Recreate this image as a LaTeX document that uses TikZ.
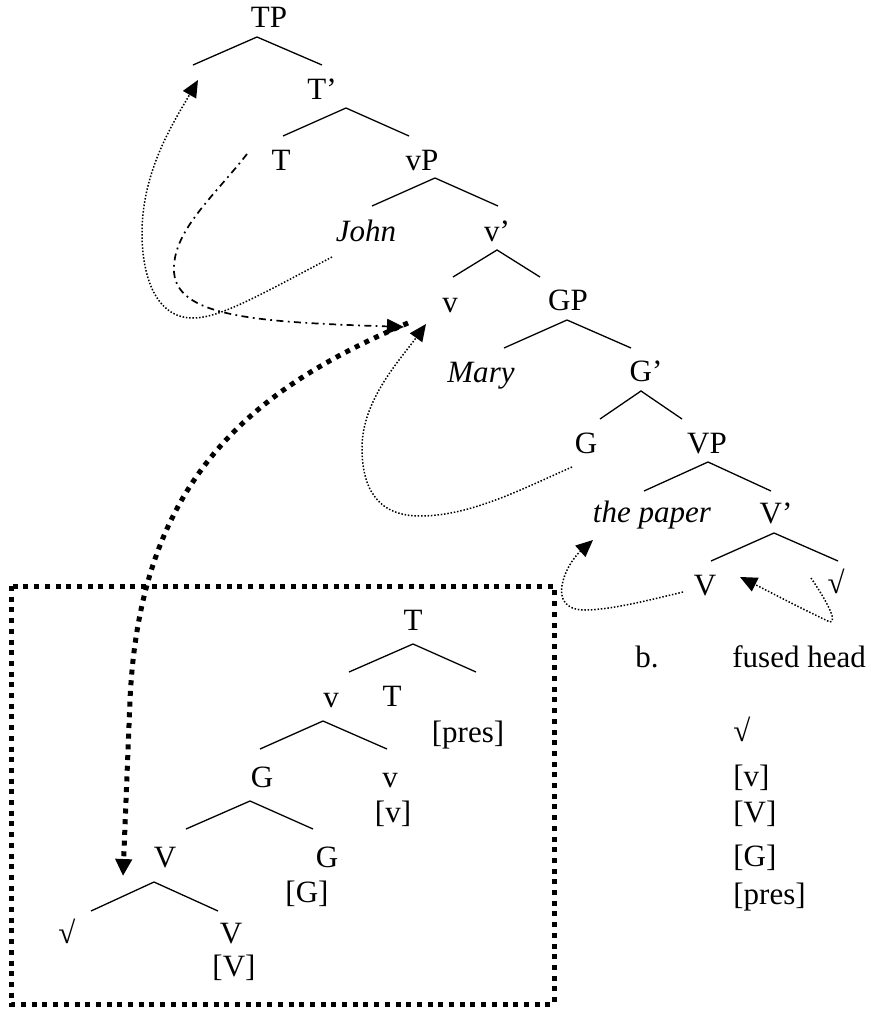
\documentclass[tikz,border=0pt]{standalone}
\usepackage{fontspec}
\setmainfont{Liberation Serif}
\usepackage{tikz}
\usetikzlibrary{arrows.meta,calc,positioning}
\tikzset{
  branch/.style={line width=0.65pt},
  lbl/.style={anchor=base,inner sep=0pt,font=\fontsize{15.5}{18}\selectfont},
  lblw/.style={lbl,anchor=base west},
  tip/.style={-{Triangle[length=8.5pt,width=7.5pt]}},
  thindot/.style={line width=0.75pt,dash pattern=on 0.75pt off 0.9pt},
  dashdot/.style={line width=0.85pt,dash pattern=on 3.5pt off 2.2pt on 0.9pt off 2.2pt},
  thickdot/.style={line width=2.5pt,dash pattern=on 2.5pt off 2.85pt}
}
\begin{document}
\begin{tikzpicture}[x=0.5pt,y=-0.5pt]
\useasboundingbox (0,0) rectangle (871,1011);
% a. tree
\node[lbl] (TP) at (269,28) {TP};
\draw[branch] (193,65) -- (257,37) -- (322,65);
\node[lbl] (Tbar) at (322,100) {T’};
\draw[branch] (283,136) -- (346,108) -- (409,136);
\node[lbl] (T) at (281,170) {T};
\node[lbl] (vP) at (422,170) {vP};
\draw[branch] (372,206) -- (435,178) -- (498,206);
\node[lbl] (John) at (366,241) {\textit{John}};
\node[lbl] (vbar) at (497,241) {v’};
\draw[branch] (453,277) -- (497,250) -- (540,277);
\node[lbl] (v) at (450,312) {v};
\node[lbl] (GP) at (568,310) {GP};
\draw[branch] (504,348) -- (567,320) -- (631,348);
\node[lbl] (Mary) at (481,382) {\textit{Mary}};
\node[lbl] (Gbar) at (646,381) {G’};
\draw[branch] (600,419) -- (641,391) -- (682,419);
\node[lbl] (G) at (586,453) {G};
\node[lbl] (VP) at (707,453) {VP};
\draw[branch] (644,491) -- (708,462) -- (771,491);
\node[lbl] (paper) at (652,522) {\textit{the paper}};
\node[lbl] (Vbar) at (776,523) {V’};
\draw[branch] (711,561) -- (774,533) -- (838,561);
\node[lbl] (V) at (705,595) {V};
\node[lbl] (root) at (836,593) {√};
% b. fused head
\node[lbl] (b) at (647,667) {b.};
\node[lblw] (fused) at (732,667) {fused head};
\node[lblw] (froot) at (733,741) {√};
\node[lblw] (fv) at (733,786) {[v]};
\node[lblw] (fV) at (733,822) {[V]};
\node[lblw] (fG) at (733,866) {[G]};
\node[lblw] (fpres) at (733,904) {[pres]};
% complex head
\draw[thickdot] (11,586) rectangle (554,1004);
\node[lbl] (hT) at (413,630) {T};
\draw[branch] (349,672) -- (413,644) -- (476,672);
\node[lbl] (hv) at (331,707) {v};
\node[lbl] (hTT) at (392,706) {T};
\node[lbl] (hpres) at (468,742) {[pres]};
\draw[branch] (260,749) -- (323,721) -- (387,749);
\node[lbl] (hG) at (262,787) {G};
\node[lbl] (hvv) at (390,787) {v};
\node[lbl] (hvf) at (393,822) {[v]};
\draw[branch] (186,829) -- (250,801) -- (313,829);
\node[lbl] (hV) at (165,867) {V};
\node[lbl] (hGG) at (327,867) {G};
\node[lbl] (hGf) at (307,902) {[G]};
\draw[branch] (91,911) -- (154,882) -- (218,911);
\node[lbl] (hroot) at (67,943) {√};
\node[lbl] (hVV) at (231,943) {V};
\node[lbl] (hVf) at (234,976) {[V]};
% movement arrows
\coordinate (johnout) at (332,257);
\coordinate (tpin) at (198,80);
\coordinate (tout) at (247,154);
\coordinate (vin) at (404,327);
\coordinate (vtop) at (408,323);
\coordinate (hVin) at (123,876);
\coordinate (gout) at (572,467);
\coordinate (vin2) at (426,324);
\coordinate (Vout) at (683,592);
\coordinate (paperin) at (593,540);
\coordinate (rootout) at (811,578);
\coordinate (Vin) at (740,577);
\draw[thindot,tip] (johnout) .. controls (260,295) and (220,318) .. (193,318)
  .. controls (155,318) and (142,275) .. (142,233)
  .. controls (142,170) and (175,120) .. (tpin);
\draw[dashdot,tip] (tout) .. controls (215,195) and (174,230) .. (174,268)
  .. controls (172,318) and (260,322) .. (vin);
\draw[thickdot,-{Triangle[length=8.5pt,width=8pt]}] (vtop) .. controls (250,390) and (140,480) .. (130,700) -- (hVin);
\draw[thindot,tip] (gout) .. controls (520,490) and (470,516) .. (420,516)
  .. controls (375,516) and (362,485) .. (362,448)
  .. controls (362,400) and (400,360) .. (vin2);
\draw[thindot,tip] (Vout) .. controls (650,600) and (610,610) .. (585,610)
  .. controls (545,610) and (565,565) .. (paperin);
\draw[thindot,tip] (rootout) .. controls (826,600) and (838,622) .. (830,622)
  .. controls (800,608) and (770,592) .. (Vin);
\end{tikzpicture}
\end{document}
